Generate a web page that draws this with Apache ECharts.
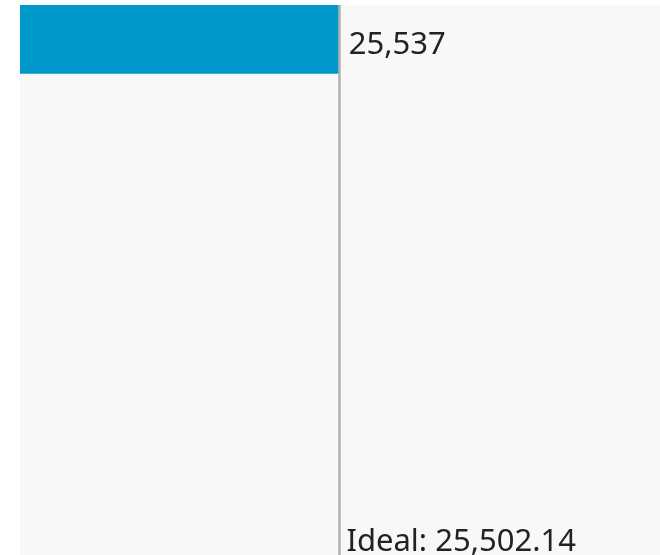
<!DOCTYPE html>
<html>
<head>
<meta charset="utf-8">
<script src="https://cdn.jsdelivr.net/npm/echarts@6/dist/echarts.min.js"></script>
<style>
  html, body { margin: 0; padding: 0; background: #fff; }
  #main { width: 660px; height: 555px; }
</style>
</head>
<body>
<div id="main"></div>
<script>
(function () {
    // 数据
    var categories = ['Actual'];
    var actualValues = [25537];
    var idealValue = 25502.14;
    var axisMax = 51100;

    var fmt = function (v) {
        return v.toLocaleString('en-US');
    };

    var myChart = echarts.init(document.getElementById('main'));
    var option = {
        animation: false,
        textStyle: { fontFamily: 'Noto Sans' },
        grid: {
            left: 20, right: 0, top: 5, bottom: 0,
            show: true,
            backgroundColor: '#f8f8f8',
            borderWidth: 0
        },
        xAxis: {
            type: 'value',
            min: 0,
            max: axisMax,
            show: false
        },
        yAxis: {
            type: 'category',
            data: categories,
            inverse: true,
            min: 0,
            max: 7,
            show: false
        },
        series: [{
            type: 'bar',
            data: actualValues,
            barWidth: '100%',
            itemStyle: { color: '#0099cc' },
            label: {
                show: true,
                position: 'right',
                distance: 9,
                offset: [0, 6],
                fontSize: 31,
                color: '#222',
                fontFamily: 'Noto Sans',
                formatter: function (p) { return fmt(p.value); }
            },
            markLine: {
                silent: true,
                symbol: 'none',
                lineStyle: { color: '#b0b0b0', width: 2.5, type: 'solid' },
                label: {
                    show: true,
                    position: 'end',
                    align: 'left',
                    verticalAlign: 'bottom',
                    padding: [0, 0, 0, 7],
                    distance: 3,
                    fontSize: 31,
                    color: '#222',
                    fontFamily: 'Noto Sans',
                    formatter: 'Ideal: ' + fmt(idealValue)
                },
                data: [{ xAxis: idealValue }]
            }
        }]
    };
    myChart.setOption(option);
})();
</script>
</body>
</html>
